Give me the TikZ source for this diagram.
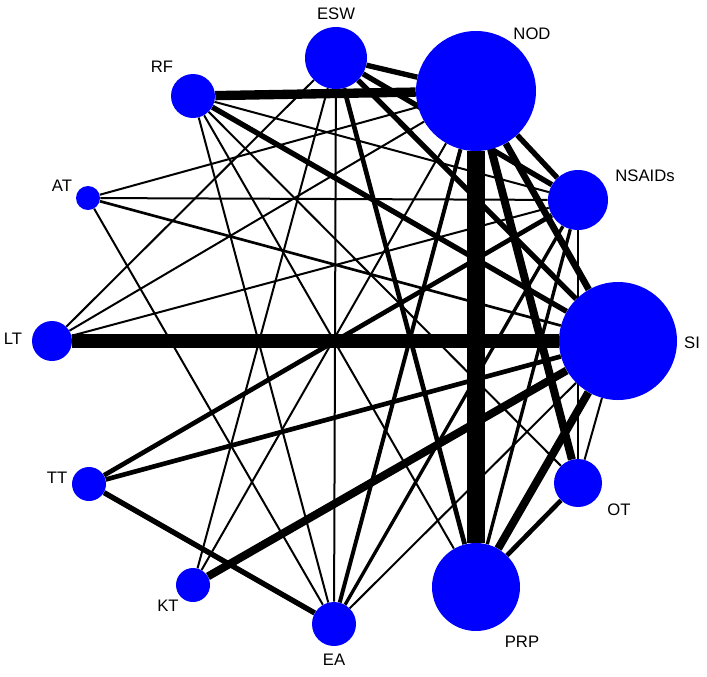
\documentclass[tikz,border=0pt]{standalone}
\usepackage{fontspec}
\setmainfont{Liberation Sans}
\usetikzlibrary{backgrounds}
\begin{document}
\begin{tikzpicture}[x=0.75pt,y=-0.75pt]

      \tikzset{trt/.style={circle, fill=blue, inner sep=0pt},
               lbl/.style={font=\fontsize{12.5}{14}\selectfont}}
      \useasboundingbox (0,0) rectangle (707,676);
%% Vertices
      	\node[trt, minimum size=62pt*0.75] (esw) at (336,58) {};
      	\node[trt, minimum size=120pt*0.75] (nod) at (476,91) {};
      	\node[trt, minimum size=44pt*0.75] (rf) at (193,96) {};
      	\node[trt, minimum size=60pt*0.75] (nsaids) at (578,200) {};
      	\node[trt, minimum size=24pt*0.75] (at) at (88,198) {};
      	\node[trt, minimum size=40pt*0.75] (lt) at (52,341) {};
      	\node[trt, minimum size=118pt*0.75] (si) at (618,341) {};
      	\node[trt, minimum size=34pt*0.75] (tt) at (89,484) {};
      	\node[trt, minimum size=48pt*0.75] (ot) at (578,483) {};
      	\node[trt, minimum size=34pt*0.75] (kt) at (193,585) {};
      	\node[trt, minimum size=88pt*0.75] (prp) at (476,587) {};
      	\node[trt, minimum size=44pt*0.75] (ea) at (334,624) {};
%Labels
      	\node[lbl] (esw-l) at (336,14) {ESW};
      	\node[lbl] (nod-l) at (532,34) {NOD};
      	\node[lbl] (rf-l) at (162,67) {RF};
      	\node[lbl] (nsaids-l) at (645,176) {NSAIDs};
      	\node[lbl] (at-l) at (62,186) {AT};
      	\node[lbl] (lt-l) at (13,339) {LT};
      	\node[lbl] (si-l) at (692,343) {SI};
      	\node[lbl] (tt-l) at (57,478) {TT};
      	\node[lbl] (ot-l) at (619,510) {OT};
      	\node[lbl] (kt-l) at (168,606) {KT};
      	\node[lbl] (prp-l) at (522,642) {PRP};
      	\node[lbl] (ea-l) at (334,660) {EA};
%Edges
      \begin{pgfonlayer}{background}
		\draw[line width=1.5pt] (esw) -- (lt);
		\draw[line width=1.5pt] (esw) -- (kt);
		\draw[line width=1.5pt] (esw) -- (ea);
		\draw[line width=4pt] (esw) -- (nod);
		\draw[line width=4pt] (esw) -- (nsaids);
		\draw[line width=4pt] (esw) -- (si);
		\draw[line width=3.5pt] (esw) -- (prp);
		\draw[line width=7pt] (rf) -- (nod);
		\draw[line width=4pt] (rf) -- (si);
		\draw[line width=1.5pt] (rf) -- (ot);
		\draw[line width=1.5pt] (rf) -- (prp);
		\draw[line width=1.5pt] (rf) -- (ea);
		\draw[line width=1.5pt] (rf) -- (nsaids);
		\draw[line width=1.5pt] (at) -- (nod);
		\draw[line width=1.5pt] (at) -- (nsaids);
		\draw[line width=2pt] (at) -- (si);
		\draw[line width=1.5pt] (at) -- (ea);
		\draw[line width=11pt] (lt) -- (si);
		\draw[line width=1.5pt] (lt) -- (nod);
		\draw[line width=1.5pt] (lt) -- (nsaids);
		\draw[line width=4pt] (nod) -- (nsaids);
		\draw[line width=5pt] (nod) -- (si);
		\draw[line width=6pt] (nod) -- (ot);
		\draw[line width=14pt] (nod) -- (prp);
		\draw[line width=3pt] (nod) -- (ea);
		\draw[line width=1.5pt] (nod) -- (kt);
		\draw[line width=3.5pt] (nsaids) -- (tt);
		\draw[line width=2.5pt] (nsaids) -- (ea);
		\draw[line width=2.5pt] (nsaids) -- (prp);
		\draw[line width=1.5pt] (nsaids) -- (ot);
		\draw[line width=3.5pt] (si) -- (tt);
		\draw[line width=6pt] (si) -- (kt);
		\draw[line width=1.5pt] (si) -- (ot);
		\draw[line width=6pt] (si) -- (prp);
		\draw[line width=1.5pt] (si) -- (ea);
		\draw[line width=3.5pt] (ot) -- (prp);
		\draw[line width=4pt] (tt) -- (ea);
      \end{pgfonlayer}
	\end{tikzpicture}
\end{document}
